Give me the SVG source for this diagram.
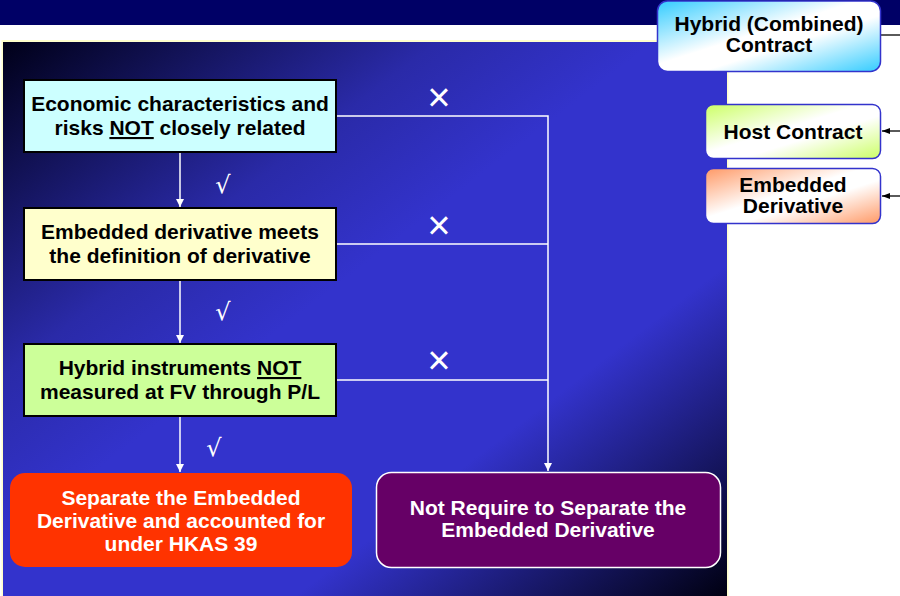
<svg xmlns="http://www.w3.org/2000/svg" width="900" height="596" viewBox="0 0 900 596">
<defs>
<linearGradient id="panel" x1="0" y1="0" x2="1" y2="1">
<stop offset="0" stop-color="#000018"/>
<stop offset="0.3" stop-color="#2a2aa8"/>
<stop offset="0.45" stop-color="#3333cc"/>
<stop offset="0.7" stop-color="#3333cc"/>
<stop offset="1" stop-color="#000010"/>
</linearGradient>
<linearGradient id="gBlue" x1="0" y1="0" x2="1" y2="1">
<stop offset="0" stop-color="#33ccff"/>
<stop offset="0.45" stop-color="#ffffff"/>
<stop offset="0.6" stop-color="#ffffff"/>
<stop offset="1" stop-color="#33ccff"/>
</linearGradient>
<linearGradient id="gGreen" x1="0" y1="0" x2="1" y2="1">
<stop offset="0" stop-color="#ccff66"/>
<stop offset="0.45" stop-color="#ffffff"/>
<stop offset="0.6" stop-color="#ffffff"/>
<stop offset="1" stop-color="#ccff66"/>
</linearGradient>
<linearGradient id="gOrange" x1="0" y1="0" x2="1" y2="1">
<stop offset="0" stop-color="#ff9966"/>
<stop offset="0.45" stop-color="#ffffff"/>
<stop offset="0.6" stop-color="#ffffff"/>
<stop offset="1" stop-color="#ff9966"/>
</linearGradient>
<marker id="aw" markerWidth="8" markerHeight="8" refX="8" refY="4" orient="auto" markerUnits="userSpaceOnUse">
<path d="M0,0 L8,4 L0,8 Z" fill="#ffffff"/>
</marker>
<marker id="ab" markerWidth="8" markerHeight="8" refX="8" refY="4" orient="auto" markerUnits="userSpaceOnUse">
<path d="M0,1 L8,4 L0,7 Z" fill="#000000"/>
</marker>
</defs>
<style>
text{font-family:"Liberation Sans",Arial,sans-serif;font-weight:bold;text-anchor:middle}
.dk{fill:#000000;font-size:21px}
.wt{fill:#ffffff;font-size:21px}
.rt{fill:#000000;font-size:21px}
.step{stroke:#000000;stroke-width:2}
.wl{stroke:#ffffff;stroke-width:1.5;fill:none}
.bl{stroke:#000000;stroke-width:1.3;fill:none}
.ck{fill:#ffffff;font-size:24px;font-style:italic;font-family:"DejaVu Serif",serif;font-weight:normal}
.xx{fill:#ffffff;font-size:40px;font-weight:normal}
.u{text-decoration:underline}
.side{stroke:#3333cc;stroke-width:1.5}
</style>
<rect x="0" y="0" width="900" height="596" fill="#ffffff"/>
<rect x="0" y="0" width="900" height="25" fill="#000066"/>
<rect x="1.5" y="40" width="727" height="560" fill="#ffffcc"/>
<rect x="3" y="42" width="724" height="556" fill="url(#panel)"/>

<g id="connectors">
<line class="wl" x1="180" y1="152" x2="180" y2="207" marker-end="url(#aw)"/>
<line class="wl" x1="180" y1="280" x2="180" y2="343" marker-end="url(#aw)"/>
<line class="wl" x1="180" y1="416" x2="180" y2="472" marker-end="url(#aw)"/>
<polyline class="wl" points="336,116 548,116 548,471" marker-end="url(#aw)"/>
<line class="wl" x1="336" y1="244" x2="548" y2="244"/>
<line class="wl" x1="336" y1="380" x2="548" y2="380"/>
<line class="bl" x1="881" y1="35" x2="900" y2="35"/>
<line class="bl" x1="900" y1="131" x2="882" y2="131" marker-end="url(#ab)"/>
<line class="bl" x1="900" y1="196" x2="882" y2="196" marker-end="url(#ab)"/>
<text class="ck" x="223" y="193">√</text>
<text class="ck" x="223" y="320">√</text>
<text class="ck" x="214" y="456">√</text>
<text class="xx" x="439" y="111">×</text>
<text class="xx" x="439" y="239">×</text>
<text class="xx" x="439" y="374">×</text>
</g>

<g id="step1">
<rect class="step" x="24" y="80" width="312" height="72" fill="#ccffff"/>
<text class="dk" x="180" y="111">Economic characteristics and</text>
<text class="dk" x="180" y="135">risks <tspan class="u">NOT</tspan> closely related</text>
</g>
<g id="step2">
<rect class="step" x="24" y="208" width="312" height="72" fill="#ffffcc"/>
<text class="dk" x="180" y="239">Embedded derivative meets</text>
<text class="dk" x="180" y="263">the definition of derivative</text>
</g>
<g id="step3">
<rect class="step" x="24" y="344" width="312" height="72" fill="#ccff99"/>
<text class="dk" x="180" y="375">Hybrid instruments <tspan class="u">NOT</tspan></text>
<text class="dk" x="180" y="399">measured at FV through P/L</text>
</g>
<g id="separate">
<rect x="10" y="473" width="342" height="94" rx="15" fill="#ff3300"/>
<text class="wt" x="181" y="505">Separate the Embedded</text>
<text class="wt" x="181" y="528">Derivative and accounted for</text>
<text class="wt" x="181" y="551">under HKAS 39</text>
</g>
<g id="notseparate">
<rect x="376.5" y="472.5" width="344" height="95" rx="15" fill="#660066" stroke="#ffffff" stroke-width="1.5"/>
<text class="wt" x="548" y="515">Not Require to Separate the</text>
<text class="wt" x="548" y="537">Embedded Derivative</text>
</g>
<g id="hybrid">
<rect class="side" x="657.5" y="1" width="223" height="70.5" rx="10" fill="url(#gBlue)"/>
<text class="rt" x="769" y="31">Hybrid (Combined)</text>
<text class="rt" x="769" y="52">Contract</text>
</g>
<g id="host">
<rect class="side" x="705.5" y="104.5" width="175" height="54" rx="8" fill="url(#gGreen)"/>
<text class="rt" x="793" y="139">Host Contract</text>
</g>
<g id="embedded">
<rect class="side" x="705.5" y="168.5" width="175" height="55" rx="8" fill="url(#gOrange)"/>
<text class="rt" x="793" y="192">Embedded</text>
<text class="rt" x="793" y="213">Derivative</text>
</g>
</svg>
